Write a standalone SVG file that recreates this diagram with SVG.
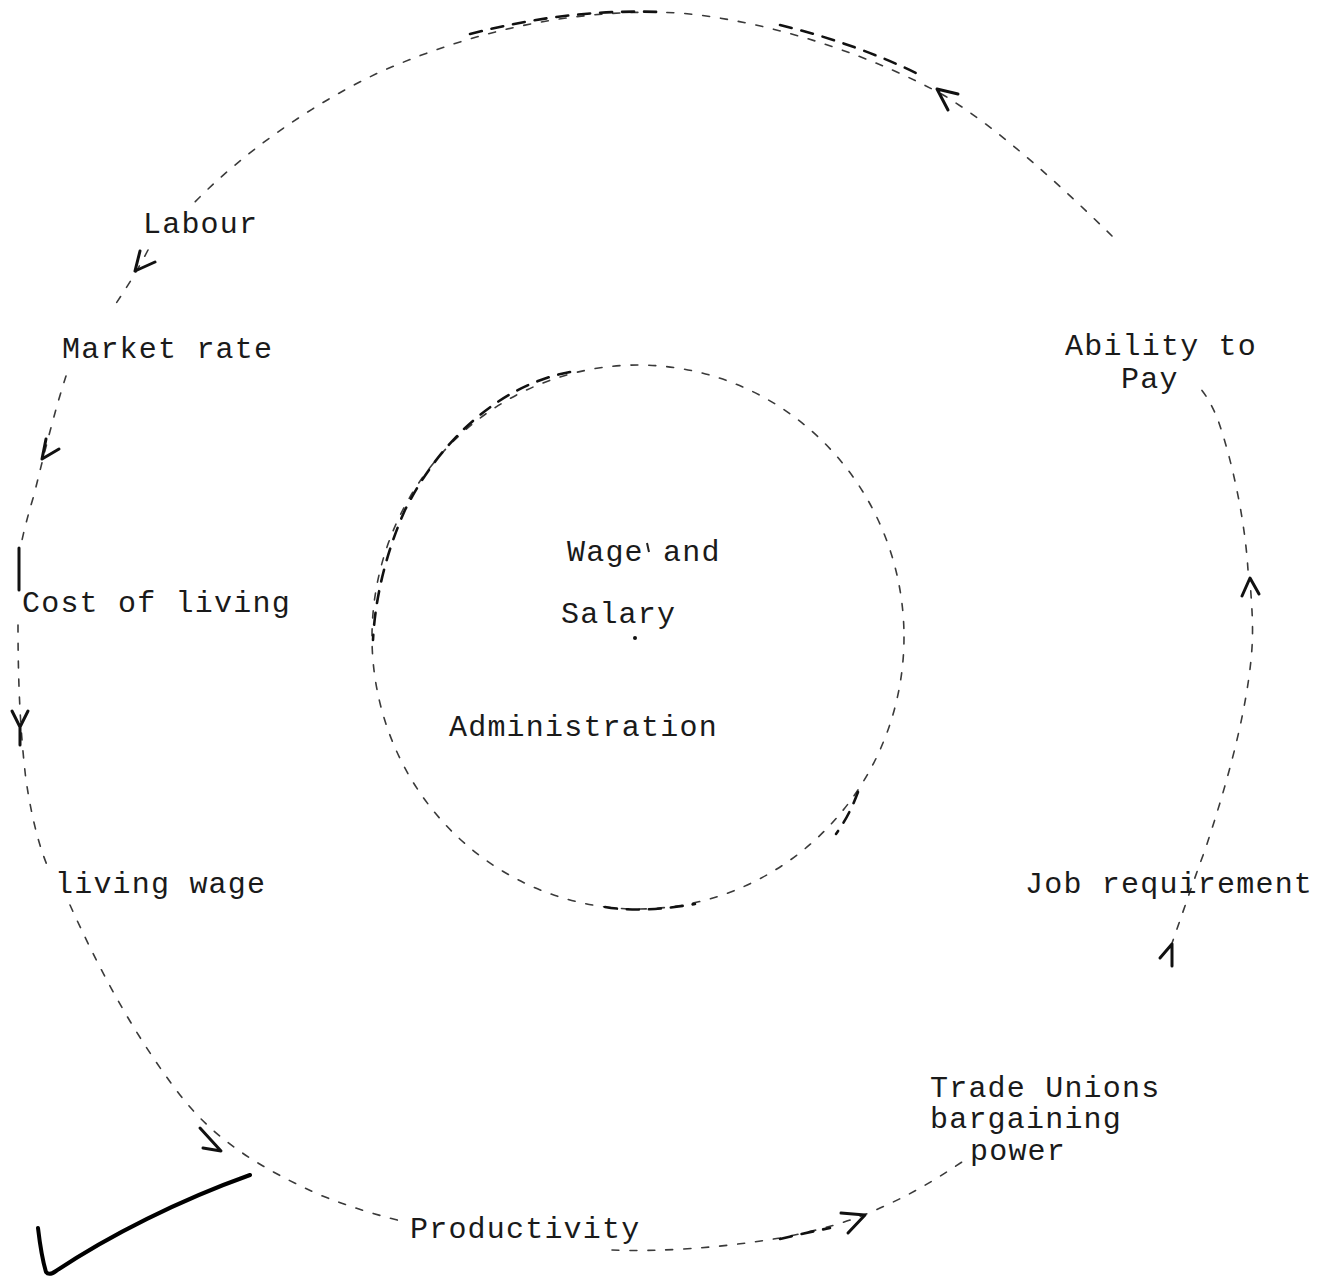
<svg xmlns="http://www.w3.org/2000/svg" width="1331" height="1281" viewBox="0 0 1331 1281">
<style>
.lbl{font-family:"Liberation Mono","DejaVu Sans Mono",monospace;font-size:30px;letter-spacing:1.2px;fill:#1a1a1a}
.dash{fill:none;stroke:#3a3a3a;stroke-width:1.6;stroke-dasharray:7 11;stroke-linecap:round}
.dark{fill:none;stroke:#111;stroke-width:2.6;stroke-dasharray:12 10;stroke-linecap:round}
.head{fill:none;stroke:#111;stroke-width:3;stroke-linecap:round;stroke-linejoin:round}
</style>
<rect width="1331" height="1281" fill="#ffffff"/>
<g id="connectors">
  <!-- top arc: Ability to Pay -> Labour -->
  <path class="dash" d="M1112 236 C1060 185 1000 130 945 96 C880 60 780 22 680 13 C580 8 480 28 380 72 C310 105 240 155 192 205"/>
  <path class="dark" d="M470 34 C540 16 600 10 660 12"/>
  <path class="dark" d="M780 25 C830 37 880 55 920 75"/>
  <path class="head" d="M958 94 L937 89 L948 110"/>
  <!-- Labour -> Market rate -->
  <path class="dash" d="M148 250 C135 275 125 290 115 305"/>
  <path class="head" d="M140 251 L135 271 L155 262"/>
  <!-- Market rate -> Cost of living -->
  <path class="dash" d="M66 376 C55 410 45 450 34 495 C28 515 24 530 21 545"/>
  <path class="head" d="M46 439 L42 459 L59 449"/>
  <path class="head" d="M19 548 L19 590"/>
  <!-- Cost of living -> living wage -->
  <path class="dash" d="M18 625 C18 680 20 730 26 780 C32 820 40 850 50 872"/>
  <path class="head" d="M12 711 L20 727 L28 711 M20 727 L20 745"/>
  <!-- living wage -> Productivity -->
  <path class="dash" d="M70 905 C95 960 130 1030 180 1095 C215 1140 260 1168 320 1195 C350 1207 380 1216 405 1222"/>
  <path class="head" d="M200 1128 L221 1151 L203 1148"/>
  <!-- Productivity -> Trade Unions -->
  <path class="dash" d="M612 1250 C660 1252 720 1248 780 1238 C820 1230 850 1222 880 1208 C910 1195 935 1180 962 1162"/>
  <path class="dark" d="M780 1239 C800 1234 815 1231 830 1228"/>
  <path class="head" d="M841 1213 L865 1215 L848 1233"/>
  <!-- Trade Unions -> Job requirement -> Ability to Pay -->
  <path class="dash" d="M1171 946 C1182 915 1192 885 1205 850 C1225 790 1245 720 1251 660 C1254 630 1252 610 1250 580"/>
  <path class="head" d="M1160 958 L1172 944 L1172 966"/>
  <path class="head" d="M1242 596 L1250 578 L1259 594"/>
  <path class="dash" d="M1248 570 C1245 520 1232 460 1218 420 C1212 405 1206 395 1200 388"/>
</g>
<g id="center-circle">
  <ellipse class="dash" cx="638" cy="637" rx="266" ry="272"/>
  <path class="dark" d="M570 372 C500 385 440 440 405 510 C385 555 375 600 373 640"/>
  <path class="dark" d="M605 907 C635 912 665 909 695 904"/>
  <path class="dark" d="M858 792 C852 808 846 820 836 834"/>
</g>
<g id="node-wage-salary-administration">
  <text class="lbl" x="567" y="561">Wage and</text>
  <path d="M647 543 L649 552" stroke="#222" stroke-width="2"/>
  <text class="lbl" x="561" y="623">Salary</text>
  <circle cx="635" cy="638" r="2" fill="#111"/>
  <text class="lbl" x="449" y="736">Administration</text>
</g>
<g id="node-labour"><text class="lbl" x="143" y="233">Labour</text></g>
<g id="node-market-rate"><text class="lbl" x="62" y="358">Market rate</text></g>
<g id="node-ability-to-pay">
  <text class="lbl" x="1065" y="355">Ability to</text>
  <text class="lbl" x="1121" y="388">Pay</text>
</g>
<g id="node-cost-of-living"><text class="lbl" x="22" y="612">Cost of living</text></g>
<g id="node-living-wage"><text class="lbl" x="55" y="893">living wage</text></g>
<g id="node-job-requirement"><text class="lbl" x="1025" y="893">Job requirement</text></g>
<g id="node-trade-unions">
  <text class="lbl" x="930" y="1097">Trade Unions</text>
  <text class="lbl" x="930" y="1128">bargaining</text>
  <text class="lbl" x="970" y="1160">power</text>
</g>
<g id="node-productivity"><text class="lbl" x="410" y="1238">Productivity</text></g>
<g id="checkmark">
  <path d="M38 1228 C40 1245 43 1262 46 1272 Q49 1276 56 1271 C110 1235 180 1200 250 1175" fill="none" stroke="#000" stroke-width="4" stroke-linecap="round" stroke-linejoin="round"/>
</g>
</svg>
